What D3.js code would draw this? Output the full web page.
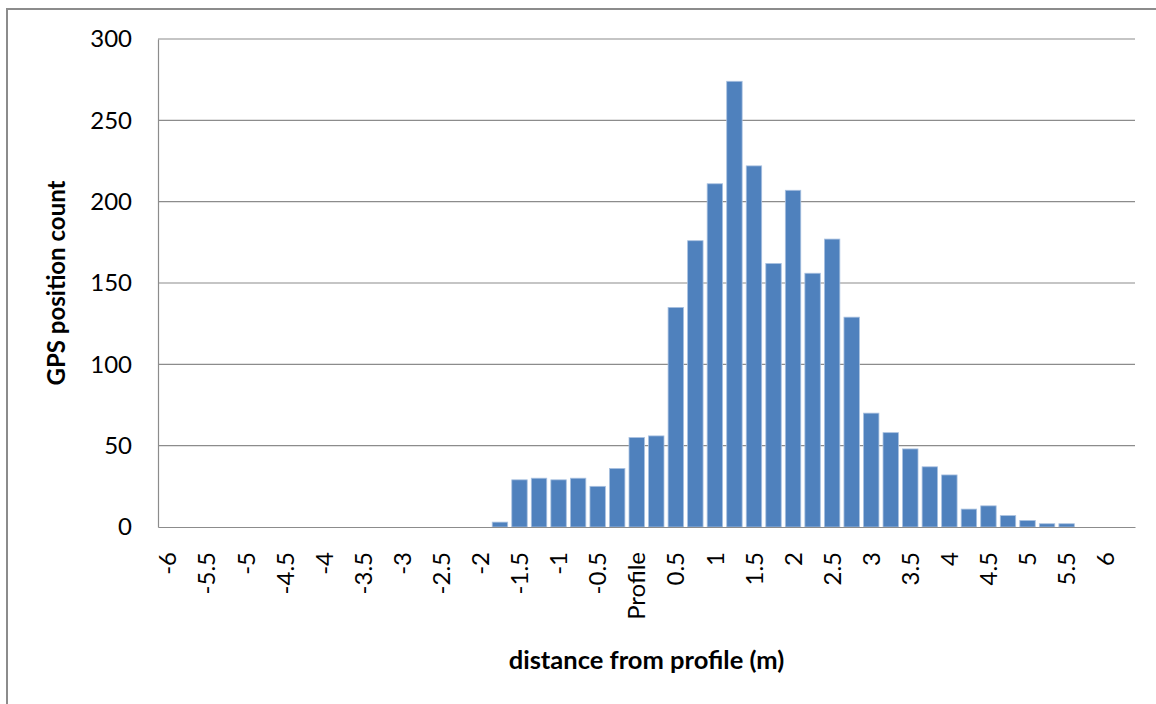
<!DOCTYPE html>
<html>
<head>
<meta charset="utf-8">
<script src="https://cdn.jsdelivr.net/npm/d3@7"></script>
<style>
  body { margin: 0; background: #fff; }
  svg { display: block; font-family: Lato, "Open Sans", sans-serif; }
</style>
</head>
<body>
<svg id="chart" width="1156" height="704"></svg>
<script>
// distance bins (m), one every 0.25 m
const categories = [
  "-6", "-5.75", "-5.5", "-5.25", "-5", "-4.75", "-4.5", "-4.25", "-4", "-3.75",
  "-3.5", "-3.25", "-3", "-2.75", "-2.5", "-2.25", "-2", "-1.75", "-1.5", "-1.25",
  "-1", "-0.75", "-0.5", "-0.25", "0", "0.25", "0.5", "0.75", "1", "1.25",
  "1.5", "1.75", "2", "2.25", "2.5", "2.75", "3", "3.25", "3.5", "3.75",
  "4", "4.25", "4.5", "4.75", "5", "5.25", "5.5", "5.75", "6", "6.25"
];

// GPS position count per bin
const counts = [
  0, 0, 0, 0, 0, 0, 0, 0, 0, 0,
  0, 0, 0, 0, 0, 0, 0, 3, 29, 30,
  29, 30, 25, 36, 55, 56, 135, 176, 211, 274,
  222, 162, 207, 156, 177, 129, 70, 58, 48, 37,
  32, 11, 13, 7, 4, 2, 2, 0, 0, 0
];

// only every second bin gets a label, like the original
const labeledCats = [
  "-6", "-5.5", "-5", "-4.5", "-4", "-3.5", "-3", "-2.5", "-2", "-1.5",
  "-1", "-0.5", "0", "0.5", "1", "1.5", "2", "2.5", "3", "3.5",
  "4", "4.5", "5", "5.5", "6"
];

const yTicks = [0, 50, 100, 150, 200, 250, 300];

const svg = d3.select("#chart");
const plotLeft = 158, plotRight = 1135, plotTop = 39, plotBottom = 527;
const gray = "#8c8c8c";

// Outer chart frame (cut off at right and bottom)
svg.append("rect")
  .attr("x", 7).attr("y", 9)
  .attr("width", 1170).attr("height", 720)
  .style("fill", "none")
  .style("stroke", gray)
  .style("stroke-width", 2);

const x = d3.scaleBand()
  .domain(categories)
  .range([plotLeft, plotRight])
  .paddingInner(0.21)
  .paddingOuter(0.105);

const y = d3.scaleLinear()
  .domain([0, 300])
  .range([plotBottom, plotTop]);

// Gridlines
svg.append("g")
  .selectAll("line")
  .data(yTicks.filter(d => d > 0))
  .join("line")
  .attr("x1", plotLeft).attr("x2", plotRight)
  .attr("y1", d => y(d)).attr("y2", d => y(d))
  .style("stroke", gray)
  .style("stroke-width", 1.2);

// Bars
svg.append("g")
  .selectAll("rect")
  .data(counts)
  .join("rect")
  .attr("x", (d, i) => x(categories[i]))
  .attr("y", d => y(d))
  .attr("width", x.bandwidth())
  .attr("height", d => plotBottom - y(d))
  .style("fill", "#4f81bd")
  .style("stroke", d => d > 0 ? "#a9c1e0" : "none")
  .style("stroke-width", 0.8);

// Y axis
const yAxis = svg.append("g")
  .attr("transform", `translate(${plotLeft},0)`)
  .call(d3.axisLeft(y).tickValues(yTicks).tickSize(0).tickPadding(26));
yAxis.select(".domain").style("stroke", gray).style("stroke-width", 1.2);
yAxis.selectAll("text")
  .style("font-family", "Lato, sans-serif")
  .style("font-size", "24px")
  .style("fill", "#000");

// X axis
const xAxis = svg.append("g")
  .attr("transform", `translate(0,${plotBottom})`)
  .call(d3.axisBottom(x)
    .tickValues(labeledCats)
    .tickSize(0)
    .tickFormat(d => d === "0" ? "Profile" : d));
xAxis.select(".domain").style("stroke", gray).style("stroke-width", 1.2);
xAxis.selectAll("text")
  .attr("transform", "rotate(-90)")
  .attr("x", -25)
  .attr("y", 0)
  .attr("dy", "0.36em")
  .attr("text-anchor", "end")
  .style("font-family", "Lato, sans-serif")
  .style("font-size", "24px")
  .style("fill", "#000");

// Axis titles
svg.append("text")
  .attr("transform", `translate(65,${(plotTop + plotBottom) / 2}) rotate(-90)`)
  .attr("text-anchor", "middle")
  .style("font-size", "24px")
  .style("font-weight", "bold")
  .text("GPS position count");

svg.append("text")
  .attr("x", (plotLeft + plotRight) / 2)
  .attr("y", 669)
  .attr("text-anchor", "middle")
  .style("font-size", "25.5px")
  .style("font-weight", "bold")
  .text("distance from profile (m)");
</script>
</body>
</html>
